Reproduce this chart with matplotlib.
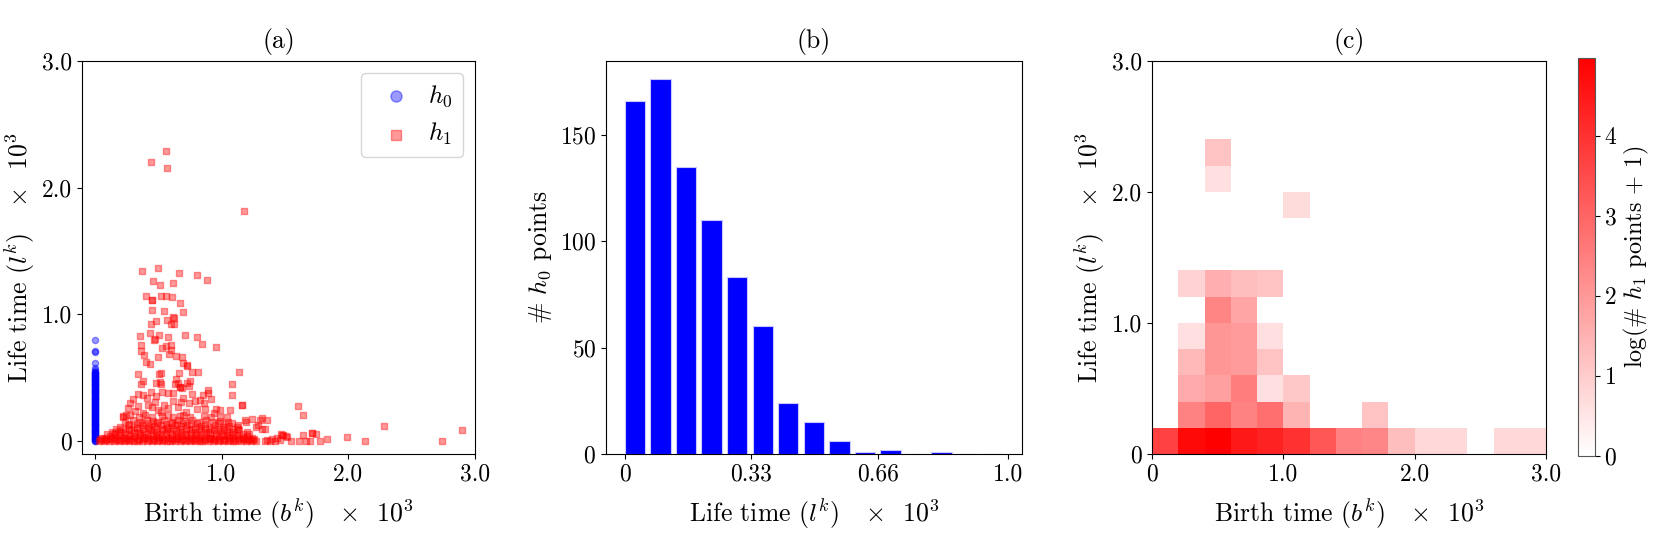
import numpy as np
import matplotlib
matplotlib.use('Agg')
import matplotlib.pyplot as plt
from matplotlib.colors import LinearSegmentedColormap

plt.rcParams['font.family'] = 'serif'
plt.rcParams['font.serif'] = ['cmr10']
plt.rcParams['mathtext.fontset'] = 'cm'
plt.rcParams['axes.formatter.use_mathtext'] = True
plt.rcParams['axes.unicode_minus'] = False

# ---- data (all values x 10^3) ----
# h0 points: birth time is 0, only life times differ
h0_life = [0.0, 0.005, 0.01, 0.015, 0.02, 0.03, 0.04, 0.05, 0.06, 0.07, 0.08,
           0.09, 0.10, 0.11, 0.12, 0.13, 0.14, 0.15, 0.16, 0.17, 0.18, 0.19,
           0.20, 0.21, 0.22, 0.23, 0.24, 0.25, 0.26, 0.27, 0.28, 0.29, 0.30,
           0.31, 0.32, 0.33, 0.34, 0.35, 0.36, 0.37, 0.38, 0.39, 0.40, 0.41,
           0.42, 0.43, 0.44, 0.45, 0.46, 0.47, 0.48, 0.49, 0.50, 0.51, 0.52,
           0.53, 0.54, 0.55, 0.56, 0.58, 0.62, 0.70, 0.71, 0.80]
h0_life_more = [0.025, 0.035, 0.045, 0.055, 0.065, 0.075, 0.085, 0.095, 0.105,
                0.115, 0.125, 0.135, 0.145, 0.155, 0.165, 0.175, 0.185, 0.195,
                0.205, 0.215, 0.225, 0.235, 0.245, 0.255, 0.265, 0.275, 0.285,
                0.295, 0.305, 0.315, 0.325, 0.335, 0.345, 0.355, 0.365, 0.375,
                0.385, 0.395, 0.405, 0.415, 0.425, 0.435, 0.445, 0.455, 0.465,
                0.475, 0.485, 0.495, 0.505, 0.515, 0.525, 0.535, 0.545]

# h1 points (birth, life): sparse points
h1_sparse = [
    (0.44, 2.20), (0.56, 2.29), (0.57, 2.155), (1.18, 1.815),
    (0.376, 1.344), (0.50, 1.363), (0.668, 1.324), (0.803, 1.31), (0.884, 1.268),
    (0.463, 1.266), (0.513, 1.232), (0.618, 1.25),
    (0.403, 1.148), (0.45, 1.117), (0.455, 1.112), (0.521, 1.145), (0.566, 1.145),
    (0.61, 1.137), (0.676, 1.092), (0.455, 1.032), (0.55, 1.029), (0.70, 1.021),
    (0.481, 0.95), (0.442, 0.922), (0.621, 0.98), (0.625, 0.975), (0.571, 0.953),
    (0.604, 0.923), (0.625, 0.925),
    (0.434, 0.853), (0.51, 0.84), (0.358, 0.827), (0.476, 0.81), (0.579, 0.82),
    (0.71, 0.835), (0.81, 0.824),
    (0.471, 0.798), (0.85, 0.767), (0.96, 0.746), (0.363, 0.756), (0.363, 0.712),
    (0.387, 0.68), (0.531, 0.733), (0.566, 0.751), (0.60, 0.756), (0.605, 0.72),
    (0.584, 0.688), (0.64, 0.672), (0.687, 0.667), (0.497, 0.667),
    (0.408, 0.627), (0.434, 0.609), (0.697, 0.619), (0.724, 0.593), (0.73, 0.60),
    (0.771, 0.548), (0.815, 0.548), (0.51, 0.53), (0.52, 0.54), (0.342, 0.53),
    (0.663, 0.536), (1.137, 0.544),
    (0.381, 0.478), (0.487, 0.457), (0.526, 0.449), (0.64, 0.489), (0.657, 0.462),
    (0.75, 0.475), (1.079, 0.452), (0.671, 0.43), (0.744, 0.436), (0.894, 0.404),
    (0.368, 0.455), (0.513, 0.47), (0.631, 0.45), (0.724, 0.46), (0.676, 0.428),
    (0.69, 0.42),
    (0.342, 0.37), (0.381, 0.365), (0.579, 0.38), (0.618, 0.383), (0.697, 0.341),
    (0.684, 0.312), (0.855, 0.365), (0.894, 0.383), (1.079, 0.365),
    (0.276, 0.30), (0.263, 0.26), (0.342, 0.278), (0.421, 0.286), (0.474, 0.312),
    (0.79, 0.32), (0.83, 0.325), (1.158, 0.286),
    (0.803, 0.255), (0.868, 0.255), (0.96, 0.255), (0.987, 0.25), (1.066, 0.247),
    (0.224, 0.20), (0.25, 0.207), (0.5, 0.247), (0.526, 0.233), (0.671, 0.20),
    (0.987, 0.189), (1.04, 0.194),
    (0.30, 0.33), (0.32, 0.24), (0.38, 0.22), (0.41, 0.34), (0.45, 0.27),
    (0.48, 0.36), (0.55, 0.29), (0.58, 0.26), (0.62, 0.32), (0.66, 0.27),
    (0.72, 0.23), (0.74, 0.30), (0.77, 0.37), (0.86, 0.30), (0.92, 0.33),
    (0.94, 0.22), (0.53, 0.39), (0.44, 0.39),
    (1.184, 0.17), (1.237, 0.175), (1.30, 0.17), (1.355, 0.165), (1.289, 0.128),
    (1.342, 0.10), (1.474, 0.05), (1.079, 0.142), (1.131, 0.128), (0.158, 0.063),
    (1.316, 0.181), (1.276, 0.115), (1.316, 0.10), (1.197, 0.154), (1.163, 0.286),
    (1.602, 0.278), (1.642, 0.207), (2.281, 0.123), (2.897, 0.087), (1.987, 0.034),
    (2.129, 0.0), (2.739, 0.002), (1.715, 0.068), (1.744, 0.058), (1.639, 0.05),
    (1.829, 0.018), (1.776, 0.0), (1.702, 0.0), (1.665, 0.0), (1.613, 0.0),
    (1.552, 0.0), (1.505, 0.042), (1.47, 0.057), (1.486, 0.05), (1.513, 0.036),
    (1.71, 0.063),
    (1.34, 0.005), (1.36, 0.01), (1.38, 0.0), (1.40, 0.02), (1.42, 0.005),
    (1.44, 0.03), (1.46, 0.01),
]

# h1 points (birth, life): dense band near zero life time
h1_band = [
    (0.03, 0.003), (0.05, 0.01), (0.07, 0.0), (0.09, 0.012), (0.11, 0.004),
    (0.13, 0.015), (0.15, 0.002), (0.17, 0.01), (0.19, 0.0), (0.21, 0.013),
    (0.23, 0.005), (0.25, 0.011), (0.27, 0.001), (0.29, 0.014), (0.31, 0.006),
    (0.33, 0.0), (0.35, 0.012), (0.37, 0.004), (0.39, 0.015), (0.41, 0.002),
    (0.43, 0.01), (0.45, 0.0), (0.47, 0.013), (0.49, 0.005), (0.51, 0.011),
    (0.53, 0.001), (0.55, 0.014), (0.57, 0.006), (0.59, 0.0), (0.61, 0.012),
    (0.63, 0.004), (0.65, 0.015), (0.67, 0.002), (0.69, 0.01), (0.71, 0.0),
    (0.73, 0.013), (0.75, 0.005), (0.77, 0.011), (0.79, 0.001), (0.81, 0.014),
    (0.83, 0.006), (0.85, 0.0), (0.87, 0.012), (0.89, 0.004), (0.91, 0.015),
    (0.93, 0.002), (0.95, 0.01), (0.97, 0.0), (0.99, 0.013), (1.01, 0.005),
    (1.03, 0.011), (1.05, 0.001), (1.07, 0.014), (1.09, 0.006), (1.11, 0.0),
    (1.13, 0.012), (1.15, 0.004), (1.17, 0.015), (1.19, 0.002), (1.21, 0.01),
    (1.23, 0.0), (1.25, 0.008), (1.27, 0.003),
    (0.04, 0.02), (0.06, 0.025), (0.10, 0.02), (0.14, 0.028), (0.18, 0.022),
    (0.22, 0.03), (0.26, 0.02), (0.30, 0.025), (0.34, 0.022), (0.38, 0.03),
    (0.42, 0.024), (0.46, 0.02), (0.50, 0.028), (0.54, 0.022), (0.58, 0.03),
    (0.62, 0.02), (0.66, 0.026), (0.70, 0.022), (0.74, 0.03), (0.78, 0.02),
    (0.82, 0.025), (0.86, 0.022), (0.90, 0.03), (0.94, 0.02), (0.98, 0.026),
    (1.02, 0.022), (1.06, 0.028), (1.10, 0.02), (1.14, 0.025), (1.18, 0.022),
    (1.22, 0.02), (1.26, 0.015),
    (0.08, 0.03), (0.12, 0.045), (0.16, 0.035), (0.20, 0.05), (0.24, 0.03),
    (0.28, 0.042), (0.32, 0.038), (0.36, 0.05), (0.40, 0.032), (0.44, 0.046),
    (0.48, 0.04), (0.52, 0.035), (0.56, 0.05), (0.60, 0.03), (0.64, 0.044),
    (0.68, 0.038), (0.72, 0.05), (0.76, 0.033), (0.80, 0.047), (0.84, 0.036),
    (0.88, 0.05), (0.92, 0.03), (0.96, 0.043), (1.00, 0.038), (1.04, 0.05),
    (1.08, 0.032), (1.12, 0.046), (1.16, 0.035), (1.20, 0.04), (1.24, 0.03),
    (0.10, 0.055), (0.15, 0.06), (0.21, 0.065), (0.26, 0.058), (0.31, 0.062),
    (0.36, 0.066), (0.41, 0.06), (0.46, 0.064), (0.51, 0.058), (0.56, 0.066),
    (0.61, 0.06), (0.66, 0.062), (0.71, 0.058), (0.76, 0.066), (0.81, 0.06),
    (0.86, 0.064), (0.91, 0.058), (0.96, 0.065), (1.01, 0.06), (1.06, 0.062),
    (1.11, 0.058), (1.17, 0.06), (1.22, 0.055),
    (0.14, 0.07), (0.19, 0.085), (0.24, 0.075), (0.29, 0.09), (0.34, 0.07),
    (0.39, 0.082), (0.44, 0.088), (0.49, 0.072), (0.54, 0.09), (0.59, 0.078),
    (0.64, 0.085), (0.69, 0.07), (0.74, 0.09), (0.79, 0.076), (0.84, 0.086),
    (0.89, 0.072), (0.94, 0.09), (0.99, 0.078), (1.04, 0.083), (1.09, 0.07),
    (1.14, 0.086), (1.20, 0.075),
    (0.17, 0.10), (0.22, 0.095), (0.27, 0.10), (0.33, 0.105), (0.38, 0.098),
    (0.43, 0.104), (0.48, 0.10), (0.53, 0.096), (0.57, 0.105), (0.62, 0.10),
    (0.67, 0.097), (0.72, 0.104), (0.77, 0.10), (0.82, 0.096), (0.87, 0.104),
    (0.92, 0.10), (0.97, 0.097), (1.02, 0.10), (1.08, 0.096), (1.13, 0.10),
    (0.20, 0.11), (0.26, 0.125), (0.31, 0.115), (0.37, 0.13), (0.42, 0.11),
    (0.47, 0.122), (0.52, 0.13), (0.58, 0.112), (0.63, 0.127), (0.68, 0.118),
    (0.73, 0.13), (0.79, 0.11), (0.84, 0.124), (0.90, 0.116), (0.95, 0.13),
    (1.01, 0.112), (1.06, 0.12), (1.12, 0.11),
    (0.27, 0.14), (0.33, 0.138), (0.39, 0.145), (0.44, 0.14), (0.49, 0.143),
    (0.56, 0.138), (0.61, 0.145), (0.65, 0.14), (0.70, 0.142), (0.76, 0.138),
    (0.81, 0.145), (0.87, 0.14), (0.97, 0.142), (1.03, 0.138),
    (0.24, 0.155), (0.30, 0.165), (0.36, 0.15), (0.41, 0.17), (0.46, 0.16),
    (0.50, 0.152), (0.55, 0.168), (0.60, 0.155), (0.66, 0.17), (0.71, 0.158),
    (0.77, 0.165), (0.82, 0.15), (0.88, 0.168), (0.93, 0.155), (0.99, 0.16),
    (1.05, 0.15),
    (0.22, 0.19), (0.28, 0.205), (0.35, 0.195), (0.40, 0.21), (0.45, 0.19),
    (0.53, 0.20), (0.58, 0.21), (0.62, 0.19), (0.70, 0.205), (0.75, 0.195),
    (0.86, 0.20), (0.92, 0.19),
]

# h0 life time histogram (15 bins over [0, 1])
h0_counts = [166, 176, 135, 110, 83, 60, 24, 15, 6, 1, 2, 0, 1, 0, 0]

# log(# h1 points + 1) on a 15 x 15 grid over [0, 3] x [0, 3], rows bottom -> top
heat_rows = [
    [3.7, 4.8, 4.97, 4.5, 4.3, 4.0, 3.3, 2.45, 2.35, 1.27, 0.75, 0.75, 0, 0.75, 0.75],
    [0, 2.43, 3.0, 2.43, 2.8, 1.46, 0, 0, 1.17, 0, 0, 0, 0, 0, 0],
    [0, 1.66, 1.85, 2.53, 0.64, 1.07, 0, 0, 0, 0, 0, 0, 0, 0, 0],
    [0, 1.36, 2.05, 1.95, 1.17, 0, 0, 0, 0, 0, 0, 0, 0, 0, 0],
    [0, 0.64, 2.05, 1.95, 0.64, 0, 0, 0, 0, 0, 0, 0, 0, 0, 0],
    [0, 0, 2.4, 1.75, 0, 0, 0, 0, 0, 0, 0, 0, 0, 0, 0],
    [0, 0.87, 1.56, 1.27, 1.17, 0, 0, 0, 0, 0, 0, 0, 0, 0, 0],
    [0, 0, 0, 0, 0, 0, 0, 0, 0, 0, 0, 0, 0, 0, 0],
    [0, 0, 0, 0, 0, 0, 0, 0, 0, 0, 0, 0, 0, 0, 0],
    [0, 0, 0, 0, 0, 0.68, 0, 0, 0, 0, 0, 0, 0, 0, 0],
    [0, 0, 0.64, 0, 0, 0, 0, 0, 0, 0, 0, 0, 0, 0, 0],
    [0, 0, 1.17, 0, 0, 0, 0, 0, 0, 0, 0, 0, 0, 0, 0],
    [0, 0, 0, 0, 0, 0, 0, 0, 0, 0, 0, 0, 0, 0, 0],
    [0, 0, 0, 0, 0, 0, 0, 0, 0, 0, 0, 0, 0, 0, 0],
    [0, 0, 0, 0, 0, 0, 0, 0, 0, 0, 0, 0, 0, 0, 0],
]

lbl_fs = 18.5
tick_fs = 17
birth_lbl = r'Birth time ($b^k$) $\;\;\times\;\; 10^3$'
life_lbl = r'Life time ($l^k$) $\;\;\times\;\; 10^3$'

fig = plt.figure(figsize=(16.61, 5.54), dpi=100)
ax1 = fig.add_axes([0.0494, 0.1805, 0.2366, 0.710])
ax2 = fig.add_axes([0.3648, 0.1805, 0.2503, 0.710])
ax3 = fig.add_axes([0.6936, 0.1805, 0.2372, 0.710])
cax = fig.add_axes([0.9500, 0.1770, 0.0102, 0.718])

# (a) persistence diagram
h0_all = h0_life + h0_life_more
h1_all = np.array(h1_sparse + h1_band)
ax1.scatter(np.zeros(len(h0_all)), h0_all, marker='o', s=20, color='blue',
            alpha=0.4, label='$h_0$')
ax1.scatter(h1_all[:, 0], h1_all[:, 1], marker='s', s=18, color='red',
            alpha=0.4, label='$h_1$')
ax1.set_xlim(-0.1, 3.0)
ax1.set_ylim(-0.1, 3.0)
ax1.set_xticks([0, 1, 2, 3])
ax1.set_xticklabels(['0', '1.0', '2.0', '3.0'])
ax1.set_yticks([0, 1, 2, 3])
ax1.set_yticklabels(['0', '1.0', '2.0', '3.0'])
ax1.set_xlabel(birth_lbl, fontsize=lbl_fs, labelpad=8)
ax1.set_ylabel(life_lbl, fontsize=lbl_fs)
ax1.set_title('(a)', fontsize=lbl_fs, pad=9)
ax1.legend(loc='upper right', fontsize=18, markerscale=1.8, handlelength=2.0,
           handletextpad=0.3, borderpad=0.4, labelspacing=0.5)

# (b) histogram of h0 life times
edges = np.linspace(0, 1, len(h0_counts) + 1)
bw = edges[1] - edges[0]
ax2.bar(edges[:-1], h0_counts, width=0.8 * bw, align='edge', color='blue',
        edgecolor='#c8c8ff', linewidth=0.8)
ax2.set_xticks([0, 0.33, 0.66, 1.0])
ax2.set_xticklabels(['0', '0.33', '0.66', '1.0'])
ax2.set_yticks([0, 50, 100, 150])
ax2.set_xlabel(life_lbl, fontsize=lbl_fs, labelpad=8)
ax2.set_ylabel(r'$\#$ $h_0$ points', fontsize=lbl_fs)
ax2.set_title('(b)', fontsize=lbl_fs, pad=9)

# (c) 2d histogram of h1 points
cmap = LinearSegmentedColormap.from_list('wr', ['white', 'red'])
heat = np.array(heat_rows)
grid = np.linspace(0, 3, heat.shape[0] + 1)
mesh = ax3.pcolormesh(grid, grid, heat, cmap=cmap, vmin=0, vmax=heat.max())
ax3.set_xlim(0, 3)
ax3.set_ylim(0, 3)
ax3.set_xticks([0, 1, 2, 3])
ax3.set_xticklabels(['0', '1.0', '2.0', '3.0'])
ax3.set_yticks([0, 1, 2, 3])
ax3.set_yticklabels(['0', '1.0', '2.0', '3.0'])
ax3.set_xlabel(birth_lbl, fontsize=lbl_fs, labelpad=8)
ax3.set_ylabel(life_lbl, fontsize=lbl_fs)
ax3.set_title('(c)', fontsize=lbl_fs, pad=9)
cb = fig.colorbar(mesh, cax=cax, ticks=[0, 1, 2, 3, 4])
cb.ax.set_yticklabels(['0', '1', '2', '3', '4'])
cb.ax.tick_params(labelsize=tick_fs)
cb.outline.set_edgecolor('#555555')
cb.set_label(r'log($\#$ $h_1$ points + 1)', fontsize=17.5)

for ax in (ax1, ax2, ax3):
    ax.tick_params(labelsize=tick_fs)
    for sp in ax.spines.values():
        sp.set_color('black')

fig.savefig('out.png', dpi=100)
